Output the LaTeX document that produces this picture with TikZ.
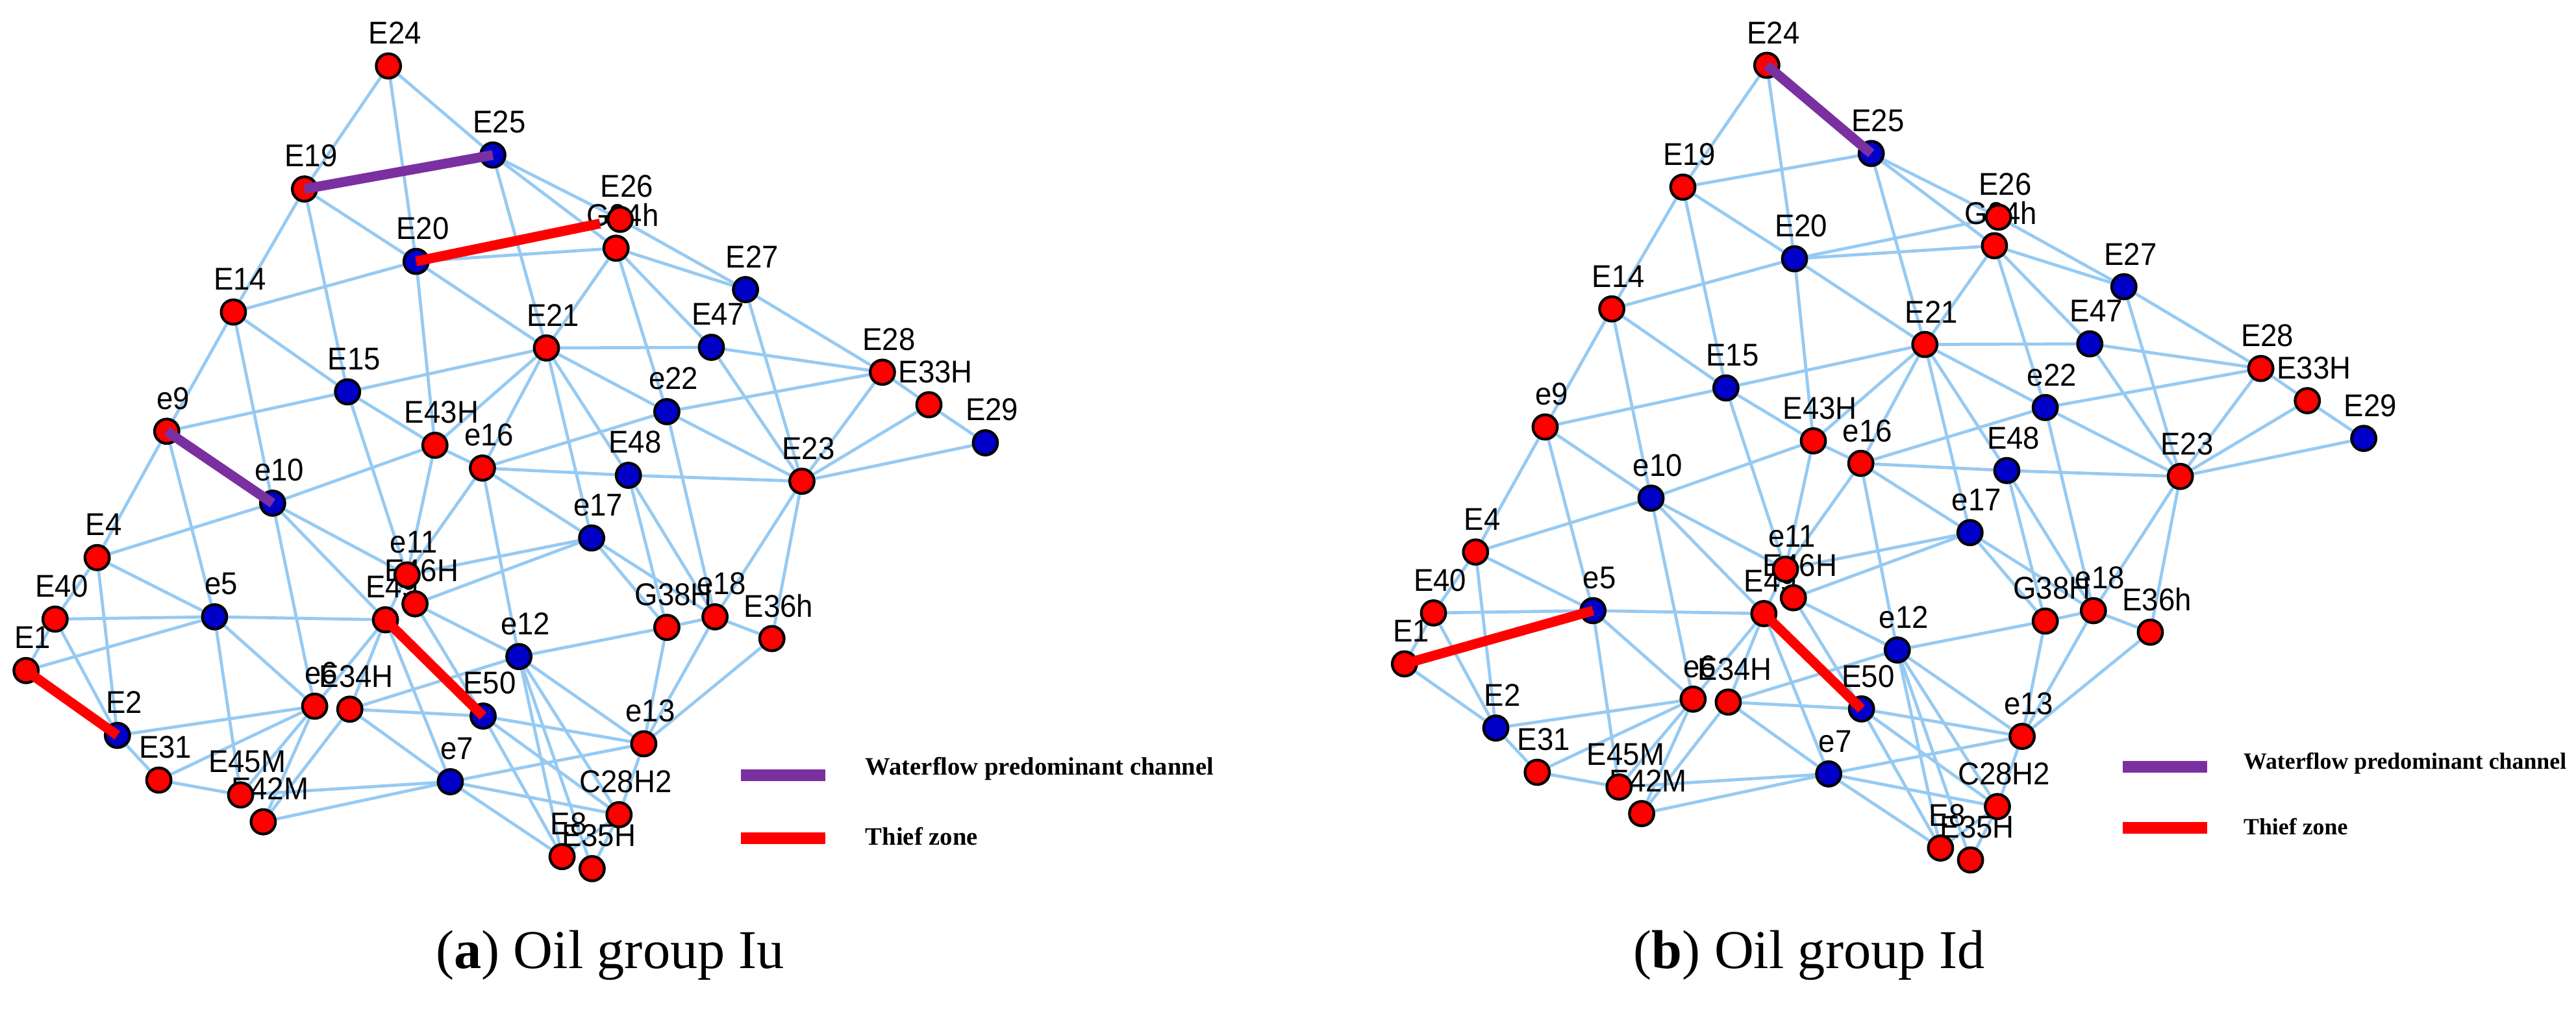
\documentclass[tikz,border=0pt]{standalone}
\usepackage{fontspec}
\setmainfont{Liberation Serif}
\newfontfamily\lblfont[FakeStretch=0.94]{Liberation Sans}
\definecolor{edgeblue}{RGB}{150,202,242}
\definecolor{cr}{RGB}{255,0,0}
\definecolor{cb}{RGB}{0,0,200}
\definecolor{wpurple}{RGB}{122,48,160}
\definecolor{tred}{RGB}{255,0,0}
\pgfdeclarelayer{edgelayer}
\pgfdeclarelayer{lbllayer}
\pgfdeclarelayer{toplayer}
\pgfsetlayers{edgelayer,lbllayer,main,toplayer}
\tikzset{
  well/.style={circle,draw=black,line width=1.2pt,minimum size=10.7pt,inner sep=0pt},
  lbl/.style={font=\lblfont\fontsize{13.8}{14}\selectfont,inner sep=0pt,text=black},
  edge/.style={draw=edgeblue,line width=1.35pt},
  purp/.style={draw=wpurple,line width=4.3pt},
  thief/.style={draw=tred,line width=4.3pt},
  legtext/.style={font=\fontsize{11}{12}\selectfont\bfseries,anchor=west,inner sep=0pt},
  legtextb/.style={font=\fontsize{10.2}{11}\selectfont\bfseries,anchor=west,inner sep=0pt},
  captext/.style={font=\fontsize{24}{26}\selectfont,anchor=base,inner sep=0pt}
}
\newcommand{\wellgraph}[1]{%
  \foreach \n/\x/\y/\c/\t in {
    E24/235.5/40/cr/E24, E25/298.8/94/cb/E25, E19/184.6/114.6/cr/E19,
    E26/376/133/cr/E26, G24h/373.5/150.5/cr/G24h, E20/252.3/158.5/cb/E20,
    E27/452/175.6/cb/E27, E14/141.5/189.2/cr/E14, E21/331.3/211/cr/E21,
    E47/431.3/210.6/cb/E47, E28/535/225.7/cr/E28, E15/210.7/237.6/cb/E15,
    E33H/563.2/245.4/cr/E33H, e22/404.3/249.6/cb/e22, E29/597.4/268.5/cb/E29,
    e9/101.1/261.5/cr/e9, E43H/263.7/270/cr/E43H, e16/292.5/283.8/cr/e16,
    E48/381/288.2/cb/E48, E23/486.2/291.8/cr/E23, e10/165.3/305.1/cb/e10,
    e17/358.7/326.2/cb/e17, E4/58.9/338.1/cr/E4, e11/246.8/348.6/cr/e11,
    E46H/251.6/366.1/cr/E46H, E4x/233.7/375.8/cr/E49, E40/33.4/375.4/cr/E40,
    e5/130.1/374/cb/e5, G38H/404.3/380.4/cr/G38H, e18/433.5/374/cr/e18,
    E36h/468/387.2/cr/E36h, e12/314.6/398.1/cb/e12, E1/15.8/406.6/cr/E1,
    e6/190.8/428.2/cr/e6, E34H/212.1/430/cr/E34H, E50/292.9/434.2/cb/E50,
    E2/71.2/445.9/cb/E2, e13/390.3/451/cr/e13, E31/96.3/473/cr/E31,
    e7/273/474/cb/e7, E45M/145.9/482/cr/E45M, E3x/159.6/498.3/cr/E42M,
    C28H2/375.3/494/cr/C28H2, E8/340.8/519.4/cr/E8, E35H/359/526.7/cr/E35H}{
    \node[well,fill=\c] (#1\n) at (\x,\y) {};
    \begin{pgfonlayer}{lbllayer}
      \node[lbl] (#1\n lab) at ([shift={(4,-20)}]\x,\y) {\t};
    \end{pgfonlayer}
  }
  \begin{pgfonlayer}{edgelayer}
  \foreach \a/\b in {
    E24/E19, E24/E20, E24/E25,
    E19/E14, E19/E20, E19/E15, E19/E25,
    E14/E20, E14/e9, E14/e10, E14/E15,
    E20/E43H, E20/E21, E20/G24h, E20/E26,
    E25/E21, E25/E26, E25/G24h, E26/E27,
    G24h/E21, G24h/E47, G24h/E27, G24h/e22,
    E27/E23, E27/E28, E47/E28, E47/E23, E21/E47,
    e22/E28, e22/E23, e22/E21, e22/e16, e22/e18,
    e16/E48, E48/E23,
    E28/E33H, E33H/E29, E28/E23, E33H/E23, E29/E23,
    E23/e18, E23/E36h, E36h/e18, E36h/e13,
    E21/E15, E21/E43H, E21/e16, E21/e17, E21/E48,
    E15/e9, E15/E43H, E15/e11,
    E43H/e10, E43H/e16, E43H/e11,
    e16/e17, e16/e12, e16/e11,
    E48/G38H, E48/e18,
    e17/e11, e17/E46H, e17/G38H, e17/e18,
    e9/E4, e9/e5, e9/e10,
    e10/E4, e10/e11, e10/E4x, e10/e6,
    E4/E40, E4/e5, E4/E2,
    E40/e5, E40/E1, E40/E2,
    e5/E1, e5/E4x, e5/E45M, e5/e6, E1/E2,
    E4x/e11, E4x/e6, E4x/E34H, E4x/e7, E4x/E50,
    E46H/e12, E46H/E50,
    E34H/e12, E34H/E50, E34H/e7, E34H/E3x,
    e6/E45M, e6/E3x, e6/E2, e6/E31,
    E2/E31, E31/E45M, E45M/e7, E3x/e7,
    E50/e13, E50/E8, E50/C28H2,
    e12/G38H, e12/e13, e12/E8, e12/C28H2, e12/E35H,
    e7/e13, e7/C28H2, e7/E8,
    G38H/e18, G38H/e13, e18/e13,
    e13/C28H2, C28H2/E8, C28H2/E35H}
    {\draw[edge] (#1\a) -- (#1\b);}
  \end{pgfonlayer}
}
\begin{document}
\begin{tikzpicture}[x=0.0254cm,y=-0.0254cm]
\path[use as bounding box] (0,0) rectangle (1561.8,611.8);
% ---- panel (a)
\wellgraph{a}
\begin{pgfonlayer}{toplayer}
  \draw[purp] (aE19.center) -- (aE25.center);
  \draw[purp] (ae9.center) -- (ae10.center);
  \draw[thief,shorten >=9] (aE20.center) -- (aE26.center);
  \draw[thief] (aE1.center) -- (aE2.center);
  \draw[thief] (aE4x.center) -- (aE50.center);
\end{pgfonlayer}
\fill[wpurple] (449.1,466.4) rectangle (500.4,473.6);
\fill[tred] (449.1,504.8) rectangle (500.4,511.8);
\node[legtext] (alegw) at (524.5,466) {Waterflow predominant channel};
\node[legtext] (alegt) at (524.5,507) {Thief zone};
\node[captext] (acap) at (370,587) {(\textbf{a}) Oil group Iu};
% ---- panel (b)
\begin{scope}[shift={(835.7,0)},yscale=0.99]
\wellgraph{b}
\begin{pgfonlayer}{toplayer}
  \draw[purp] (bE24.center) -- (bE25.center);
  \draw[thief] (bE1.center) -- (be5.center);
  \draw[thief] (bE4x.center) -- (bE50.center);
\end{pgfonlayer}
\end{scope}
\fill[wpurple] (1287,461.5) rectangle (1338,468.5);
\fill[tred] (1287,498.5) rectangle (1338,505.5);
\node[legtextb] (blegw) at (1360,463) {Waterflow predominant channel};
\node[legtextb] (blegt) at (1360,501) {Thief zone};
\node[captext] (bcap) at (1097,587) {(\textbf{b}) Oil group Id};
\end{tikzpicture}
\end{document}
